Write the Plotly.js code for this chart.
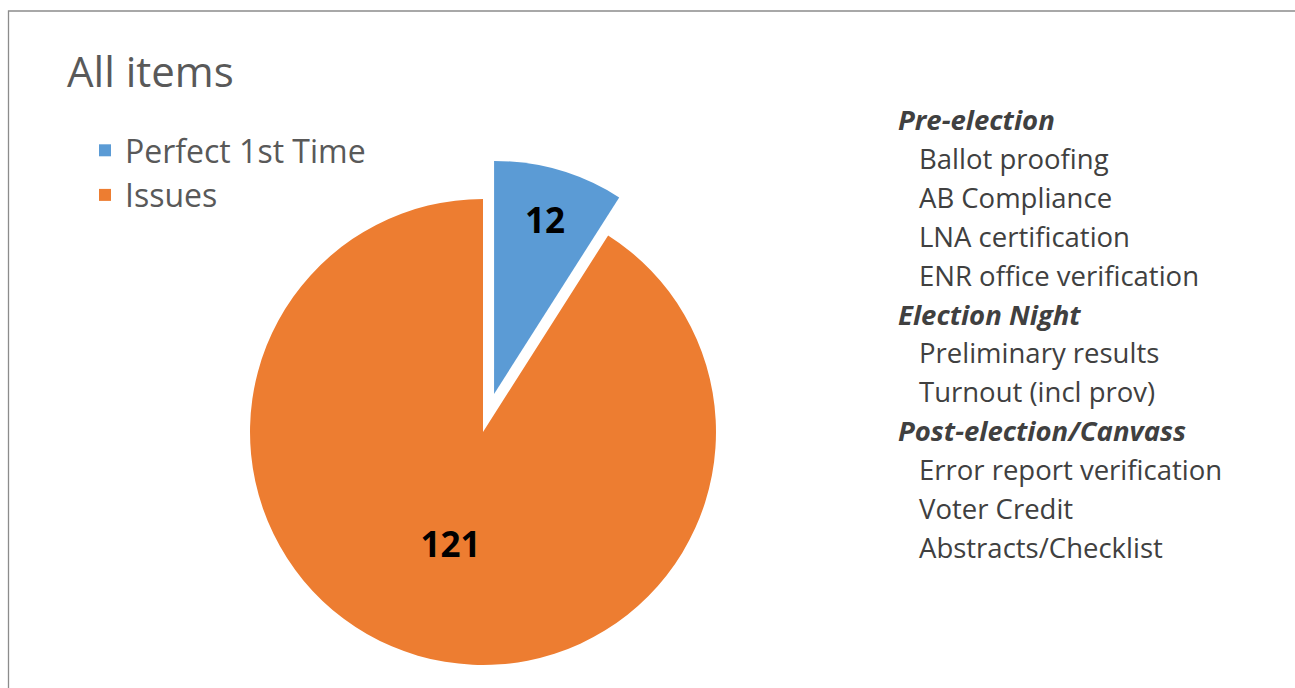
<!DOCTYPE html>
<html>
<head>
<meta charset="utf-8">
<script src="https://cdn.plot.ly/plotly-3.0.1.min.js"></script>
<style>
  html, body { margin: 0; padding: 0; overflow: hidden; background: #ffffff; }
  #chart { width: 1295px; height: 800px; }
</style>
</head>
<body>
<div id="chart"></div>
<script>
// ---- data ----
const chartTitle = "All items";
const categories = ["Perfect 1st Time", "Issues"];
const counts = [12, 121];
const sliceColors = ["#5B9BD5", "#ED7D31"];
const sliceLift = [0.17, 0];

const groupHeaders = ["Pre-election", "Election Night", "Post-election/Canvass"];
const preElectionItems = ["Ballot proofing", "AB Compliance", "LNA certification", "ENR office verification"];
const electionNightItems = ["Preliminary results", "Turnout (incl prov)"];
const postElectionItems = ["Error report verification", "Voter Credit", "Abstracts/Checklist"];

// ---- layout helpers ----
const W = 1295, H = 800;
const px = x => x / W;
const py = y => 1 - y / H;

const FONT = "'Open Sans', Lato, sans-serif";

// pie box centred at (483,432), half size 272.6
const cx = 483, cy = 432, half = 272.6;

const trace = {
  type: "pie",
  labels: categories,
  values: counts,
  pull: sliceLift,
  sort: false,
  direction: "clockwise",
  rotation: 0,
  marker: { colors: sliceColors, line: { width: 0 } },
  textinfo: "value",
  textposition: "inside",
  insidetextorientation: "horizontal",
  textfont: { family: FONT, size: 35, color: "#000000", weight: "bold" },
  hoverinfo: "label+value",
  domain: { x: [px(cx - half), px(cx + half)], y: [py(cy + half), py(cy - half)] }
};

// right-hand list
const annotations = [];
const groups = [
  [groupHeaders[0], preElectionItems],
  [groupHeaders[1], electionNightItems],
  [groupHeaders[2], postElectionItems]
];
let line = 0;
const listTop = 119.5, lineStep = 38.9;
groups.forEach(([head, items]) => {
  annotations.push({
    xref: "paper", yref: "paper",
    x: px(896), y: py(listTop + line * lineStep),
    xanchor: "left", yanchor: "middle", showarrow: false,
    text: "<b><i>" + head + "</i></b>",
    font: { family: FONT, size: 27.5, color: "#404040" }
  });
  line++;
  items.forEach(it => {
    annotations.push({
      xref: "paper", yref: "paper",
      x: px(917), y: py(listTop + line * lineStep),
      xanchor: "left", yanchor: "middle", showarrow: false,
      text: it,
      font: { family: FONT, size: 27.5, color: "#404040" }
    });
    line++;
  });
});

const layout = {
  width: W, height: H,
  margin: { l: 0, r: 0, t: 0, b: 0 },
  paper_bgcolor: "#ffffff",
  title: {
    text: chartTitle,
    x: px(67), xanchor: "left", xref: "paper",
    y: py(72), yanchor: "middle", yref: "paper",
    font: { family: FONT, size: 42, color: "#595959" }
  },
  showlegend: true,
  legend: {
    x: px(85), y: py(123), xanchor: "left", yanchor: "top",
    font: { family: FONT, size: 32, color: "#595959" },
    bgcolor: "rgba(0,0,0,0)",
    traceorder: "normal"
  },
  annotations: annotations,
  shapes: [{
    type: "rect", xref: "paper", yref: "paper",
    x0: px(8.5), y0: -0.05, x1: 1.05, y1: py(11),
    line: { color: "#8C8C8C", width: 1.3 },
    fillcolor: "rgba(0,0,0,0)"
  }]
};

Plotly.newPlot("chart", [trace], layout, { displayModeBar: false, staticPlot: true });
</script>
</body>
</html>
